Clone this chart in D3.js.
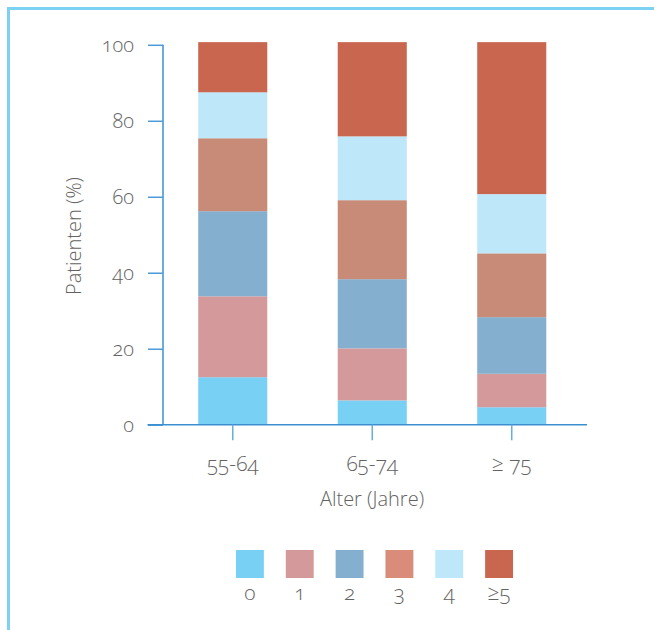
<!DOCTYPE html>
<html><head><meta charset="utf-8">
<script src="https://cdn.jsdelivr.net/npm/d3@7/dist/d3.min.js"></script>
<style>
body{margin:0;background:#fff;}
text{font-family:"Open Sans","Noto Sans",sans-serif;font-weight:300;fill:#636363;font-variant-numeric:oldstyle-nums;font-feature-settings:"onum" 1;}
</style></head>
<body><svg id="c" width="654" height="630"></svg>
<script>
const categories = ["55-64", "65-74", "\u2265 75"];
const seriesKeys = ["0", "1", "2", "3", "4", "\u22655"];
const values0 = [12.5, 6.4, 4.6];
const values1 = [21.3, 13.7, 8.8];
const values2 = [22.4, 18.2, 14.9];
const values3 = [19.2, 20.8, 16.8];
const values4 = [12.1, 16.8, 15.6];
const values5 = [13.2, 24.8, 40.0];
const yTicks = [0, 20, 40, 60, 80, 100];

const barColors = ["#79d0f5", "#d4999a", "#84afcf", "#c78b78", "#bee7f9", "#c8664f"];
const legendColors = ["#79d0f5", "#d4999a", "#84afcf", "#d98c79", "#bee7f9", "#c8664f"];

const series = [values0, values1, values2, values3, values4, values5];
const table = categories.map((c, i) => {
  const row = {cat: c};
  seriesKeys.forEach((k, j) => row[k] = series[j][i]);
  return row;
});
const stacked = d3.stack().keys(seriesKeys)(table);

const svg = d3.select("#c");
const font = "'Open Sans', 'Noto Sans', sans-serif";
const txt = "#636363";
// frame (top + left)
svg.append("line").attr("x1", 8.5).attr("x2", 654).attr("y1", 8.5).attr("y2", 8.5)
  .attr("stroke", "#7dd1f3").attr("stroke-width", 3);
svg.append("line").attr("x1", 8.5).attr("x2", 8.5).attr("y1", 7).attr("y2", 630)
  .attr("stroke", "#7dd1f3").attr("stroke-width", 3);

const y = d3.scaleLinear().domain([0, 100]).range([424.7, 44.8]);
const x = d3.scaleBand().domain(categories).range([163, 581.5])
  .paddingInner(0.505).paddingOuter(0.2525);

// bars
svg.append("g").selectAll("g").data(stacked).join("g")
  .attr("fill", (d, i) => barColors[i])
  .selectAll("rect").data(d => d).join("rect")
  .attr("x", d => x(d.data.cat))
  .attr("width", x.bandwidth())
  .attr("y", d => y(d[1]))
  .attr("height", d => y(d[0]) - y(d[1]));

// y axis
const axisColor = "#3b8fd1";
const yAxis = svg.append("g").attr("transform", "translate(163,0)")
  .call(d3.axisLeft(y).tickValues(yTicks).tickSize(15).tickPadding(14).tickFormat(d3.format("d")));
yAxis.select(".domain").attr("stroke", axisColor).attr("stroke-width", 1.5)
  .attr("d", `M0,${y(100)}V${y(0)}`);
yAxis.selectAll(".tick line").attr("stroke", "#4a9bd8").attr("stroke-width", 1.5);
yAxis.selectAll(".tick text").attr("font-size", 20).style("fill", txt)
  .style("font-family", font).style("font-weight", 300);

// x axis
svg.append("line").attr("x1", 147.5).attr("x2", 587).attr("y1", y(0)).attr("y2", y(0))
  .attr("stroke", axisColor).attr("stroke-width", 1.5);
const xAxis = svg.append("g").attr("transform", `translate(0,${y(0)})`)
  .call(d3.axisBottom(x).tickSize(15.5).tickPadding(16));
xAxis.select(".domain").remove();
xAxis.selectAll(".tick line").attr("stroke", "#6aaedc").attr("stroke-width", 1.5);
xAxis.selectAll(".tick text").attr("font-size", 21).style("fill", txt)
  .style("font-family", font).style("font-weight", 300);

// axis titles
svg.append("text").attr("x", 372).attr("y", 506).attr("text-anchor", "middle")
  .attr("font-size", 20).text("Alter (Jahre)");
svg.append("text").attr("transform", "translate(81,236) rotate(-90)")
  .attr("text-anchor", "middle").attr("font-size", 20).text("Patienten (%)");

// legend
const lx = d3.scaleBand().domain(seriesKeys).range([225, 524]).paddingInner(0.44).paddingOuter(0.22);
const lg = svg.append("g").selectAll("g").data(seriesKeys).join("g");
lg.append("rect").attr("x", d => lx(d)).attr("y", 550).attr("width", lx.bandwidth()).attr("height", 28)
  .attr("fill", (d, i) => legendColors[i]);
lg.append("text").attr("x", d => lx(d) + lx.bandwidth() / 2).attr("y", 600)
  .attr("text-anchor", "middle").attr("font-size", 21).text(d => d);
</script></body></html>
